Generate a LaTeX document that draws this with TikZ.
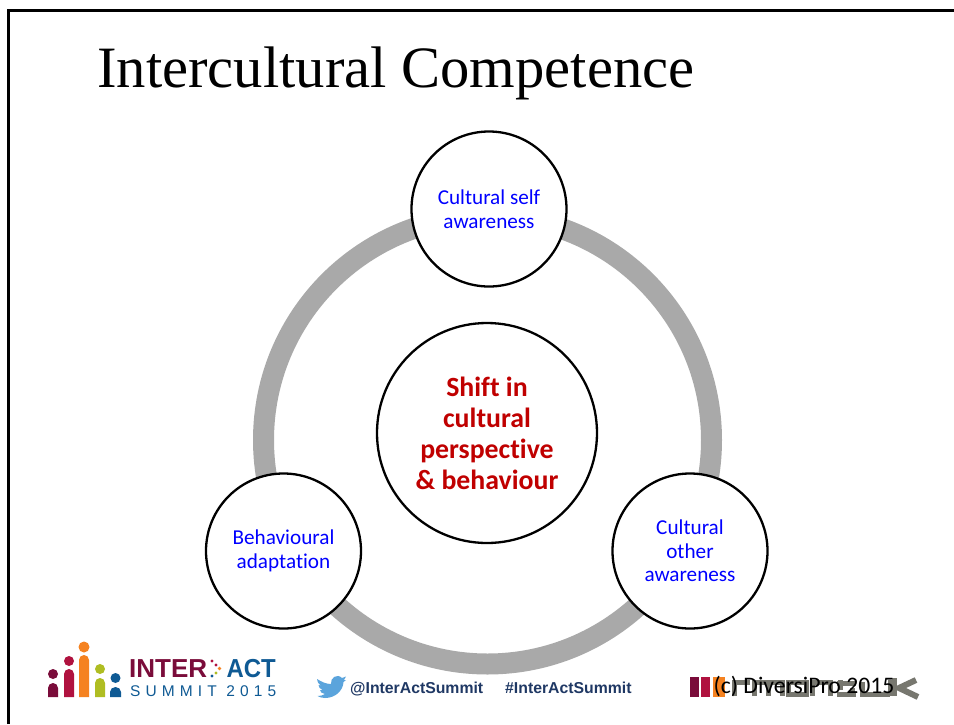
\documentclass[tikz,border=0pt]{standalone}
\usepackage{fontspec}
\setmainfont{Carlito}[Ligatures=CommonOff]
\newfontfamily\titlefont{Liberation Serif}
\newfontfamily\arialfont{Liberation Sans}
\newfontfamily\spacedfont[LetterSpace=33]{Liberation Sans}
\definecolor{ringgray}{HTML}{A9A9A9}
\definecolor{bluetxt}{HTML}{0000FF}
\definecolor{redtxt}{HTML}{C00000}
\definecolor{maroonc}{HTML}{7A0C3A}
\definecolor{crimsonc}{HTML}{B0123F}
\definecolor{orangec}{HTML}{F58220}
\definecolor{limec}{HTML}{AFBD22}
\definecolor{bluec}{HTML}{0F5A94}
\definecolor{navyc}{HTML}{1F3864}
\definecolor{birdc}{HTML}{5BA4DC}
\definecolor{ghostc}{HTML}{77776F}
\tikzset{
  bubble/.style={circle,draw=black,line width=2.3pt,fill=white,minimum size=155pt,inner sep=0pt,align=center,text=bluetxt,font=\fontsize{21.2}{23.7}\selectfont},
  hub/.style={circle,draw=black,line width=2.3pt,fill=white,minimum size=220pt,inner sep=0pt,align=center,text=redtxt,font=\fontsize{27.8}{31}\selectfont\bfseries},
  tag/.style={anchor=base west,inner sep=0pt,text=navyc,font=\arialfont\fontsize{15.8}{18}\selectfont\bfseries},
}
\newcommand{\person}[6]{% x head-y r left right top
  \fill[#1] (#2,#3) circle (#4);
  \fill[#1] (#5,697) -- (#5,#6+5) arc[start angle=180,end angle=0,x radius={(#2-#5)*1pt},y radius=5pt] -- (2*#2-#5,697) -- cycle;
}
\begin{document}
\begin{tikzpicture}[x=1pt,y=-1pt]
\useasboundingbox (0,0) rectangle (954,724);
\fill[white] (0,0) rectangle (954,724);
\draw[black,line width=2.4pt] (8.5,724) -- (8.5,10.5) -- (954,10.5);
\node[anchor=west,inner sep=0pt,font=\titlefont\fontsize{58.6}{64}\selectfont] (title) at (97,73) {Intercultural Competence};
\coordinate (ringc) at (487.5,440);
\draw[ringgray,line width=21pt] (ringc) circle (224);
\node[bubble] (self) at (489,209) {Cultural self\\awareness};
\node[bubble] (other) at (690,551) {Cultural\\other\\awareness};
\node[bubble] (adapt) at (283.5,551) {Behavioural\\adaptation};
\node[hub] (shift) at (487,433) {Shift in\\cultural\\perspective\\\& behaviour};
% logo
\person{maroonc}{53}{674}{5}{48}{683}
\person{crimsonc}{69}{661}{5}{64}{669}
\person{orangec}{84}{647}{5.5}{79}{655}
\person{limec}{100}{669}{5}{95}{678}
\person{bluec}{115.5}{678}{5}{110}{687}
\node[anchor=west,inner sep=0pt,text=maroonc,font=\arialfont\fontsize{26}{30}\selectfont\bfseries] (inter) at (129,669) {INTER};
\node[anchor=west,inner sep=0pt,xscale=.92,text=bluec,font=\arialfont\fontsize{26}{30}\selectfont\bfseries] (act) at (226.5,669) {ACT};
\fill[crimsonc] (212,661) circle (1.7) (216,665) circle (1.7);
\fill[orangec] (219.5,668.5) circle (1.8);
\fill[limec] (216,673) circle (1.7);
\fill[bluec] (212,676) circle (1.7);
\node[anchor=west,inner sep=0pt,text=bluec,font=\spacedfont\fontsize{15.5}{18}\selectfont] (summit) at (130,691) {SUMMIT 2015};
% bird
\fill[birdc] (317,679) .. controls (322,682) and (326,684) .. (331,684)
  .. controls (330,678) and (337,673) .. (342,678)
  -- (346,676.5) -- (344,680) -- (346,680) -- (343.5,682)
  .. controls (343,691) and (335,698) .. (325,698)
  .. controls (322,698) and (319,697) .. (317.5,696)
  .. controls (320,696) and (323,695.5) .. (325,694)
  .. controls (322,693.5) and (320,692) .. (320,690)
  -- (322.5,690) .. controls (320,689) and (318.5,687) .. (318.5,685)
  -- (321,685.5) .. controls (318,683.5) and (317,681) .. (317,679) -- cycle;
\node[tag] (handle) at (350,693) {@InterActSummit};
\node[tag] (hash) at (505,693) {\#InterActSummit};
% ghost logo behind the copyright line
\fill[maroonc] (689.5,677) rectangle (699,697);
\fill[crimsonc] (701,677) rectangle (710,697);
\fill[orangec] (713,677) rectangle (725,697);
\begin{scope}[ghostc,line width=5pt,line join=miter]
\draw (734,696) -- (734,682) -- (750,682);
\draw (754,696) -- (754,682) -- (768,682) -- (768,696);
\draw (768,682) -- (782,682) -- (782,696);
\draw (788,682) rectangle (806,694);
\draw (812,696) -- (812,682) -- (830,682) -- (830,696);
\draw (837,683) -- (856,683) (837,694) -- (856,694);
\draw (840,680) -- (840,690) (852,688) -- (852,696);
\draw (862,682) -- (862,694) -- (890,694);
\draw (890,680) -- (890,696);
\draw[line width=5pt] (894,696) -- (894,678);
\draw[line width=6pt] (916,680) -- (899,688) -- (918,697);
\end{scope}
\node[anchor=west,inner sep=0pt,text=black,font=\fontsize{23.7}{26}\selectfont] (copy) at (713.5,686.5) {(c) DiversiPro 2015};
\end{tikzpicture}
\end{document}
